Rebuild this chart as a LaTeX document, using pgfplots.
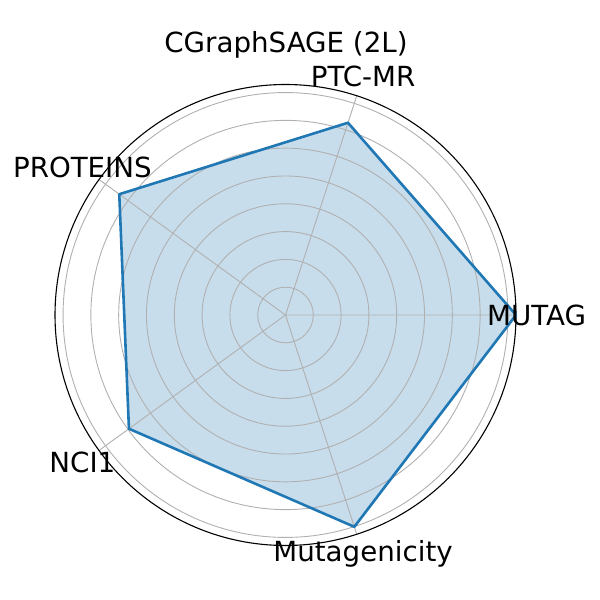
\documentclass[border=0pt]{standalone}
\usepackage{pgfplots}
\pgfplotsset{compat=1.18}
\usepgfplotslibrary{polar}
\usepackage{fontspec}
\setmainfont{DejaVu Sans}
\definecolor{c1}{HTML}{1F77B4}
\definecolor{gridc}{HTML}{B0B0B0}
\begin{document}
\begin{tikzpicture}
\fontsize{27.7}{33}\selectfont
\begin{polaraxis}[
  set layers,
  width=461pt, height=461pt, scale only axis,
  ymin=0, ymax=8.29,
  xtick={0,72,144,216,288},
  xticklabels={},
  ytick={1,2,3,4,5,6,7,8},
  yticklabels={},
  major tick length=0pt,
  grid=major,
  major grid style={draw=gridc, line width=0.9pt},
  x axis line style={draw=black, line width=1.1pt},
  y axis line style={draw=none},
  clip=false,
]
\addplot[draw=none, fill=c1, fill opacity=0.25, on layer=axis background]
  coordinates {(0,8.29) (72,7.27) (144,7.39) (216,6.96) (288,8.01)} -- cycle;
\addplot[draw=c1, line width=2.6pt, line join=round]
  coordinates {(0,8.29) (72,7.27) (144,7.39) (216,6.96) (288,8.01)} -- cycle;
\coordinate (c) at (axis cs:0,0);
\node[anchor=center] at (axis cs:0,9.03) {MUTAG};
\node[anchor=center] at (axis cs:72,9.03) {PTC-MR};
\node[anchor=center] at (axis cs:144,9.03) {PROTEINS};
\node[anchor=center] at (axis cs:216,9.03) {NCI1};
\node[anchor=center] at (axis cs:288,9.03) {Mutagenicity};
\end{polaraxis}
\node[anchor=center] at ([yshift=270pt,xshift=0.5pt]c) {CGraphSAGE (2L)};
\pgfresetboundingbox
\path ([xshift=-285.5pt,yshift=-285pt]c) rectangle ([xshift=314.5pt,yshift=315pt]c);
\end{tikzpicture}
\end{document}
